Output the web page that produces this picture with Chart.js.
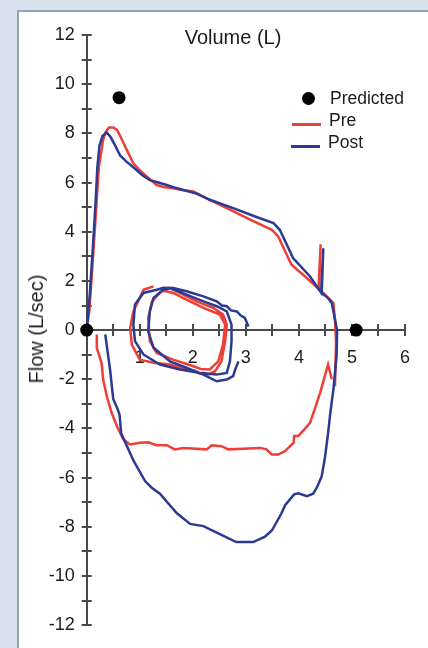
<!DOCTYPE html>
<html><head><meta charset="utf-8">
<script src="https://cdn.jsdelivr.net/npm/chart.js@4.4.1/dist/chart.umd.min.js"></script>
<style>
html,body{margin:0;padding:0;width:428px;height:648px;overflow:hidden;background:#d8e1ee;}
#panel{position:absolute;left:17px;top:10px;width:409px;height:650px;background:#fff;border-left:2px solid #9aa2ac;border-top:2px solid #9aa2ac;border-right:1px solid #c9c9c9;}
canvas{position:absolute;left:0;top:0;}
.t{position:absolute;font-family:"Liberation Sans",Arial,sans-serif;color:#1c1c1c;white-space:nowrap;}
.lg{font-size:17.5px;line-height:18px;}
.sw{position:absolute;height:3px;}
</style></head>
<body>
<div id="panel"></div>
<canvas id="c" width="428" height="648"></canvas>
<div class="t" style="left:233px;top:27px;font-size:20px;line-height:20px;transform:translateX(-50%);">Volume (L)</div>
<div class="t" style="left:36px;top:329px;font-size:20px;line-height:20px;transform:translate(-50%,-50%) rotate(-90deg);">Flow (L/sec)</div>
<div style="position:absolute;left:301.5px;top:91.5px;width:13px;height:13px;border-radius:50%;background:#000;"></div>
<div class="t lg" style="left:330px;top:89px;">Predicted</div>
<div class="sw" style="left:292px;top:123px;width:29px;background:#ee3e35;"></div>
<div class="t lg" style="left:329px;top:111px;">Pre</div>
<div class="sw" style="left:291px;top:145px;width:29px;background:#2b3a92;"></div>
<div class="t lg" style="left:328px;top:132.5px;">Post</div>
<script>
// ---- data (volume L, flow L/sec) ----
const xTickValues = [1, 2, 3, 4, 5, 6];
const yTickValues = [-12, -10, -8, -6, -4, -2, 0, 2, 4, 6, 8, 10, 12];
const predicted = [[0, 0], [5.08, 0], [0.61, 9.45]];

const preExpiration = [[0,0],[0.05,0.8],[0.12,3.0],[0.18,5.0],[0.23,6.65],[0.31,7.74],[0.36,8.07],[0.42,8.24],[0.5,8.24],[0.57,8.14],[0.63,7.9],[0.75,7.35],[0.88,6.78],[1.0,6.5],[1.13,6.25],[1.32,5.9],[1.45,5.82],[1.63,5.77],[1.8,5.7],[2.01,5.64],[2.32,5.3],[2.7,4.9],[3.08,4.49],[3.49,4.08],[3.61,3.81],[3.86,2.66],[4.15,2.12],[4.37,1.68],[4.41,3.49],[4.38,1.66],[4.46,1.51],[4.65,1.10],[4.68,0.43],[4.70,-0.5],[4.69,-1.4],[4.68,-2.28]];
const preInspiration = [[4.62,-2.0],[4.55,-1.4],[4.40,-2.55],[4.30,-3.2],[4.21,-3.77],[3.99,-4.31],[3.91,-4.31],[3.90,-4.58],[3.74,-4.92],[3.61,-5.06],[3.49,-5.06],[3.39,-4.85],[3.27,-4.79],[2.95,-4.82],[2.67,-4.85],[2.54,-4.72],[2.36,-4.68],[2.26,-4.85],[1.82,-4.79],[1.66,-4.85],[1.51,-4.68],[1.32,-4.68],[1.16,-4.56],[1.0,-4.58],[0.82,-4.65],[0.69,-4.45],[0.57,-3.91],[0.47,-3.36],[0.38,-2.69],[0.31,-2.01],[0.28,-1.33],[0.19,-0.72],[0.19,-0.18]];
const preTidal = [[1.26,1.78],[1.07,1.64],[0.88,0.76],[0.82,0.09],[0.85,-0.59],[1.00,-1.20],[1.26,-1.33],[1.57,-1.40],[1.88,-1.60],[2.05,-1.66],[2.12,-1.76],[2.20,-1.74],[2.30,-1.80],[2.42,-1.67],[2.54,-1.27],[2.61,-0.45],[2.64,0.22],[2.57,0.63],[2.39,0.90],[2.07,1.17],[1.82,1.44],[1.57,1.71],[1.45,1.62],[1.38,1.51],[1.23,1.17],[1.16,0.50],[1.19,-0.45],[1.32,-0.93],[1.63,-1.20],[2.01,-1.47],[2.15,-1.58],[2.32,-1.60],[2.48,-1.27],[2.57,-0.59],[2.61,0.22],[2.51,0.63],[2.20,0.90],[1.88,1.24],[1.63,1.51],[1.45,1.60]];

const postLoop = [[0,0],[0.06,1.5],[0.12,3.5],[0.17,5.3],[0.2,6.6],[0.24,7.5],[0.3,7.9],[0.38,8.03],[0.45,7.85],[0.55,7.45],[0.63,7.1],[0.75,6.85],[0.88,6.62],[1.05,6.3],[1.19,6.1],[1.35,6.0],[1.51,5.9],[1.65,5.8],[1.82,5.7],[2.07,5.55],[2.32,5.3],[2.76,4.96],[3.2,4.6],[3.52,4.35],[3.64,4.08],[3.89,2.93],[4.21,2.18],[4.42,1.52],[4.46,3.33],[4.43,1.5],[4.55,1.3],[4.62,1.10],[4.68,0.43],[4.72,0],[4.71,-1.06],[4.65,-2.42],[4.59,-3.4],[4.55,-4.2],[4.49,-5.2],[4.43,-5.94],[4.35,-6.35],[4.27,-6.65],[4.15,-6.75],[3.99,-6.64],[3.91,-6.68],[3.74,-7.12],[3.67,-7.46],[3.49,-8.15],[3.36,-8.4],[3.14,-8.62],[2.82,-8.62],[2.51,-8.3],[2.2,-7.97],[1.95,-7.88],[1.70,-7.45],[1.38,-6.65],[1.22,-6.4],[1.10,-6.14],[0.88,-5.3],[0.65,-4.2],[0.62,-3.45],[0.58,-3.2],[0.5,-2.8],[0.44,-1.6],[0.35,-0.18]];
const postTidal = [[3.05,0.15],[2.98,0.5],[2.9,0.6],[2.83,0.76],[2.72,0.8],[2.64,0.97],[2.55,1.0],[2.45,1.17],[2.20,1.37],[1.88,1.58],[1.63,1.71],[1.45,1.72],[1.32,1.64],[1.07,1.51],[0.91,1.04],[0.88,0.22],[0.91,-0.45],[1.07,-0.99],[1.38,-1.40],[1.76,-1.60],[2.14,-1.74],[2.45,-1.81],[2.64,-1.74],[2.70,-1.27],[2.73,-0.45],[2.73,0.22],[2.64,0.76],[2.45,0.97],[2.20,1.17],[1.88,1.44],[1.57,1.71],[1.44,1.64],[1.26,1.31],[1.19,0.76],[1.16,-0.05],[1.26,-0.72],[1.57,-1.27],[1.88,-1.53],[2.20,-1.81],[2.45,-2.08],[2.64,-2.01],[2.76,-1.87],[2.80,-1.6],[2.86,-1.27]];

// ---- styling ----
const RED = '#ee3e35', BLUE = '#2b3a92', AXIS = '#4a4a4a', TEXT = '#1c1c1c';
const FONT = '"Liberation Sans", Arial, sans-serif';
const pts = a => a.map(p => ({x: p[0], y: p[1]}));
const line = (data, color) => ({data: pts(data), showLine: true, borderColor: color, borderWidth: 2.5, pointRadius: 0, tension: 0, fill: false, clip: false});

const crossTicks = {
  id: 'crossTicks',
  beforeDatasetsDraw(chart) {
    const {ctx, scales: {x, y}} = chart;
    const x0 = x.getPixelForValue(0), y0 = y.getPixelForValue(0);
    ctx.save();
    ctx.strokeStyle = AXIS; ctx.lineWidth = 2;
    ctx.beginPath();
    x.ticks.forEach(t => { if (t.value === 0) return; const px = Math.round(x.getPixelForValue(t.value)); ctx.moveTo(px, y0 - 6); ctx.lineTo(px, y0 + 6); });
    y.ticks.forEach(t => { if (t.value === 0) return; const py = Math.round(y.getPixelForValue(t.value)); ctx.moveTo(x0 - 5, py); ctx.lineTo(x0 + 5, py); });
    ctx.stroke();
    ctx.restore();
  }
};

new Chart(document.getElementById('c'), {
  type: 'scatter',
  data: {
    datasets: [
      {data: pts(predicted), pointRadius: 6.5, pointHoverRadius: 6.5, backgroundColor: '#000', borderColor: '#000', borderWidth: 0, clip: false},
      line(postLoop, BLUE),
      line(postTidal, BLUE),
      line(preExpiration, RED),
      line(preInspiration, RED),
      line(preTidal, RED)
    ]
  },
  options: {
    responsive: false,
    animation: false,
    devicePixelRatio: 1,
    layout: {padding: {left: 20, right: 23, top: 35, bottom: 22}},
    plugins: {legend: {display: false}, tooltip: {enabled: false}},
    scales: {
      x: {
        type: 'linear', min: 0, max: 6, position: {y: 0},
        afterFit(s) { s.height = 0; },
        grid: {display: false, drawTicks: false},
        border: {display: true, color: AXIS, width: 2},
        ticks: {stepSize: 0.5, autoSkip: false, maxRotation: 0, padding: 17, color: TEXT,
          font: {family: FONT, size: 18},
          callback: v => (xTickValues.includes(v) ? String(v) : '')}
      },
      y: {
        type: 'linear', min: -12, max: 12, position: 'left',
        afterFit(s) { s.width = 66.7; },
        grid: {display: false, drawTicks: false},
        border: {display: true, color: AXIS, width: 2},
        ticks: {stepSize: 1, autoSkip: false, padding: 12, color: TEXT,
          font: {family: FONT, size: 18},
          callback: v => (yTickValues.includes(v) ? String(v) : '')}
      }
    }
  },
  plugins: [crossTicks]
});
</script>
</body></html>
